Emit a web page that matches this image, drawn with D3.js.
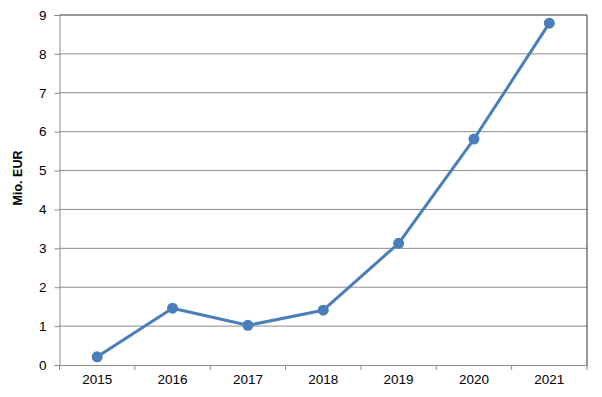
<!DOCTYPE html>
<html><head><meta charset="utf-8">
<script src="https://cdn.jsdelivr.net/npm/d3@7"></script>
<style>body{margin:0;background:#fff}svg{display:block}</style>
</head><body>
<svg id="c" width="602" height="397"></svg>
<script>
const years = ["2015","2016","2017","2018","2019","2020","2021"];
const values = [0.21, 1.46, 1.02, 1.41, 3.13, 5.81, 8.79];
const yTicks = [0,1,2,3,4,5,6,7,8,9];
const yTitle = "Mio. EUR";

const svg = d3.select("#c");
const L = 59.5, R = 587, T = 15, B = 365;
const x = d3.scaleBand().domain(years).range([L, R]);
const y = d3.scaleLinear().domain([0, 9]).range([B, T]);
const font = "'Liberation Sans', Arial, sans-serif";

// gridlines
svg.append("g").selectAll("line").data(yTicks.filter(d => d > 0)).join("line")
  .attr("x1", L).attr("x2", R).attr("y1", d => y(d)).attr("y2", d => y(d))
  .attr("stroke", d => d === 9 ? "#333" : "#8c8c8c").attr("stroke-width", 1);
// right border
svg.append("line").attr("x1", R).attr("x2", R).attr("y1", T).attr("y2", B).attr("stroke", "#333");

// y axis
const ya = svg.append("g").attr("transform", `translate(${L},0)`)
  .call(d3.axisLeft(y).tickValues(yTicks).tickSize(5).tickPadding(8).tickFormat(d3.format("d")));
ya.select(".domain").attr("stroke", "#8c8c8c");
ya.selectAll(".tick line").attr("stroke", "#8c8c8c");
ya.selectAll("text").attr("font-family", font).attr("font-size", 13.5).attr("fill", "#000");

// x axis
const xa = svg.append("g").attr("transform", `translate(0,${B})`)
  .call(d3.axisBottom(x).tickSize(0).tickPadding(9));
xa.select(".domain").attr("stroke", "#8c8c8c");
xa.selectAll("text").attr("font-family", font).attr("font-size", 13.5).attr("fill", "#000");
// boundary ticks
const bounds = years.map(d => x(d)).concat([R]);
svg.append("g").selectAll("line").data(bounds).join("line")
  .attr("x1", d => d).attr("x2", d => d).attr("y1", B).attr("y2", B + 5)
  .attr("stroke", "#8c8c8c");

// title
svg.append("text").attr("transform", `translate(22,178) rotate(-90)`)
  .attr("text-anchor", "middle").attr("font-family", font).attr("font-size", 12.5)
  .attr("font-weight", "bold").text(yTitle);

// line
const cx = d => x(d) + x.bandwidth() / 2;
svg.append("path").datum(values.map((v, i) => [years[i], v]))
  .attr("fill", "none").attr("stroke", "#4a7ebb").attr("stroke-width", 3)
  .attr("stroke-linejoin", "round")
  .attr("d", d3.line().x(d => cx(d[0])).y(d => y(d[1])));
svg.append("g").selectAll("circle").data(values).join("circle")
  .attr("cx", (d, i) => cx(years[i])).attr("cy", d => y(d)).attr("r", 5.5)
  .attr("fill", "#4a7ebb");
</script>
</body></html>
